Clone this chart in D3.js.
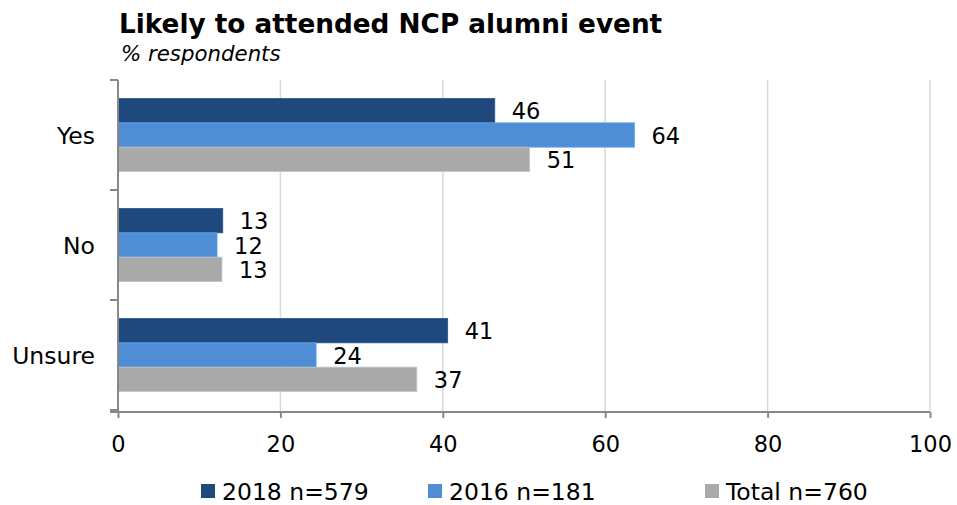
<!DOCTYPE html>
<html>
<head>
<meta charset="utf-8">
<script src="https://cdn.jsdelivr.net/npm/d3@7"></script>
<style>
  body { margin: 0; background: #fff; }
  text { font-family: "DejaVu Sans", Verdana, sans-serif; fill: #000; }
</style>
</head>
<body>
<svg id="chart" width="957" height="505"></svg>
<script>
var categories = ['Yes', 'No', 'Unsure'];
var seriesNames = ['2018 n=579', '2016 n=181', 'Total n=760'];
var seriesColors = ['#1f497d', '#4f8ed5', '#a9a9a9'];
var values2018 = [46.4, 12.9, 40.6];
var values2016 = [63.6, 12.2, 24.4];
var valuesTotal = [50.7, 12.8, 36.8];
var xTicks = [0, 20, 40, 60, 80, 100];

var series = [values2018, values2016, valuesTotal];

var LEFT = 118, RIGHT = 930, TOP = 80, BOTTOM = 410;
var svg = d3.select('#chart');

svg.append('text')
    .attr('x', 119).attr('y', 33)
    .style('font-size', '26.3px').style('font-weight', 'bold')
    .text('Likely to attended NCP alumni event');
svg.append('text')
    .attr('x', 121).attr('y', 61)
    .style('font-size', '21.3px').style('font-style', 'italic')
    .text('% respondents');

var x = d3.scaleLinear().domain([0, 100]).range([LEFT, RIGHT]);
var y0 = d3.scaleBand().domain(categories).range([TOP, BOTTOM]).padding(0);
var y1 = d3.scaleBand().domain(d3.range(series.length))
    .range([0, y0.bandwidth()]).paddingInner(0).paddingOuter(0.76);

// gridlines
svg.append('g').selectAll('line')
    .data(xTicks.slice(1))
    .enter().append('line')
    .attr('x1', function (d) { return x(d); })
    .attr('x2', function (d) { return x(d); })
    .attr('y1', TOP).attr('y2', BOTTOM + 2)
    .attr('stroke', '#d9d9d9').attr('stroke-width', 1.5);

// bars
var groups = svg.append('g').selectAll('g')
    .data(categories)
    .enter().append('g')
    .attr('transform', function (d) { return 'translate(0,' + y0(d) + ')'; });

groups.selectAll('rect')
    .data(function (d, i) { return series.map(function (s, k) { return { k: k, v: s[i] }; }); })
    .enter().append('rect')
    .attr('x', x(0))
    .attr('y', function (d) { return y1(d.k); })
    .attr('width', function (d) { return x(d.v) - x(0); })
    .attr('height', y1.bandwidth())
    .attr('fill', function (d) { return seriesColors[d.k]; })
    .attr('stroke', function (d) { return d3.color(seriesColors[d.k]).brighter(0.4); })
    .attr('stroke-width', 0.8);

groups.selectAll('.lbl')
    .data(function (d, i) { return series.map(function (s, k) { return { k: k, v: s[i] }; }); })
    .enter().append('text')
    .attr('class', 'lbl')
    .attr('x', function (d) { return x(d.v) + 17; })
    .attr('y', function (d) { return y1(d.k) + y1.bandwidth() / 2; })
    .attr('dy', '0.38em')
    .style('font-size', '22.5px')
    .text(function (d) { return Math.round(d.v); });

// axes
var axisColor = '#888888';
var xAxis = svg.append('g')
    .attr('transform', 'translate(0,' + (BOTTOM + 2) + ')')
    .call(d3.axisBottom(x).tickValues(xTicks).tickSize(6).tickPadding(18));
xAxis.select('.domain').remove();
xAxis.append('line')
    .attr('x1', LEFT - 8).attr('x2', RIGHT)
    .attr('stroke', axisColor).attr('stroke-width', 2);
xAxis.selectAll('.tick line').attr('stroke', axisColor).attr('stroke-width', 2);
xAxis.selectAll('.tick text')
    .style('font-family', '"DejaVu Sans", Verdana, sans-serif')
    .style('font-size', '22.5px').attr('fill', '#000');

var yAxis = svg.append('g');
yAxis.append('line')
    .attr('x1', LEFT).attr('x2', LEFT)
    .attr('y1', TOP).attr('y2', BOTTOM + 2)
    .attr('stroke', axisColor).attr('stroke-width', 2);
yAxis.selectAll('.tk')
    .data(d3.range(categories.length + 1))
    .enter().append('line')
    .attr('class', 'tk')
    .attr('x1', LEFT - 8).attr('x2', LEFT)
    .attr('y1', function (d) { return TOP + d * y0.step(); })
    .attr('y2', function (d) { return TOP + d * y0.step(); })
    .attr('stroke', axisColor).attr('stroke-width', 2);
yAxis.selectAll('text')
    .data(categories)
    .enter().append('text')
    .attr('x', 95)
    .attr('y', function (d) { return y0(d) + y0.bandwidth() / 2; })
    .attr('dy', '0.4em')
    .attr('text-anchor', 'end')
    .style('font-size', '23.5px')
    .text(function (d) { return d; });

// legend
var legendX = [201, 428, 705];
var legend = svg.append('g').selectAll('g')
    .data(seriesNames)
    .enter().append('g')
    .attr('transform', function (d, i) { return 'translate(' + legendX[i] + ',484)'; });
legend.append('rect')
    .attr('width', 14).attr('height', 14)
    .attr('fill', function (d, i) { return seriesColors[i]; });
legend.append('text')
    .attr('x', 21).attr('y', 16)
    .style('font-size', '23.5px')
    .text(function (d) { return d; });
</script>
</body>
</html>
